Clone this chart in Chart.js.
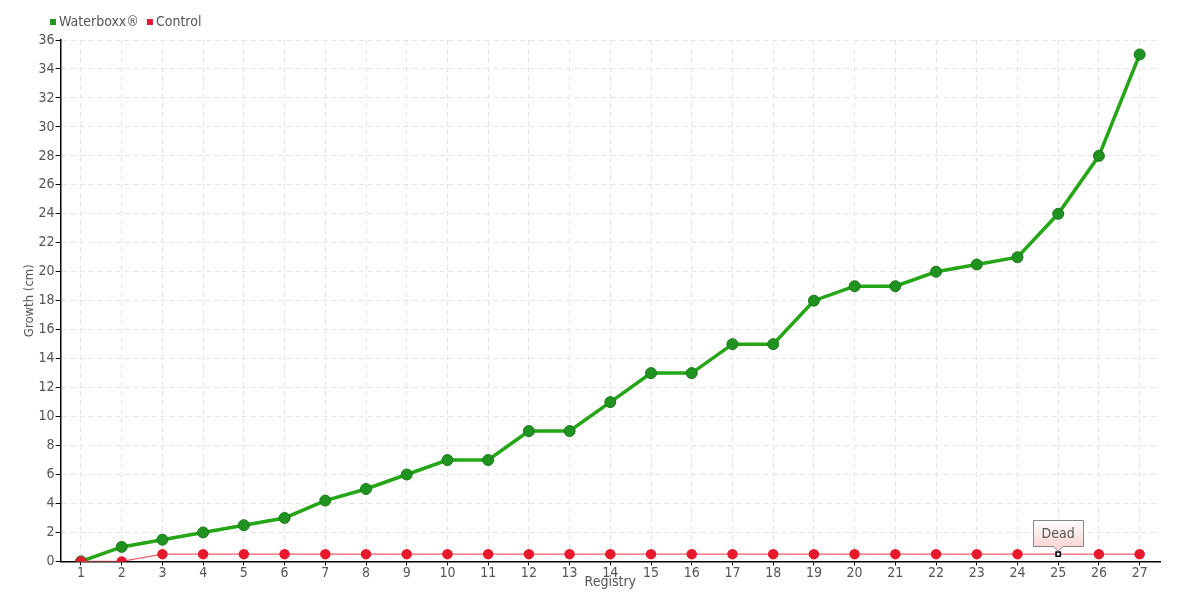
<!DOCTYPE html>
<html><head><meta charset="utf-8">
<script src="https://cdn.jsdelivr.net/npm/chart.js@4"></script>
<style>html,body{margin:0;padding:0;background:#fff}#w{width:1180px;height:600px}</style>
</head><body><div id="w"><canvas id="c"></canvas></div>
<script>
const categories = ["1","2","3","4","5","6","7","8","9","10","11","12","13","14","15","16","17","18","19","20","21","22","23","24","25","26","27"];
const waterboxx = [0,1,1.5,2,2.5,3,4.2,5,6,7,7,9,9,11,13,13,15,15,18,19,19,20,20.5,21,24,28,35];
const control = [0,0,0.5,0.5,0.5,0.5,0.5,0.5,0.5,0.5,0.5,0.5,0.5,0.5,0.5,0.5,0.5,0.5,0.5,0.5,0.5,0.5,0.5,0.5,0.5,0.5,0.5];
const deadIndex = 24;
const deadLabel = "Dead";

const FAMILY = "'DejaVu Sans', sans-serif";
const STRETCH = 'condensed';
Chart.defaults.font.family = FAMILY;
Chart.defaults.font.weight = STRETCH;
Chart.defaults.color = '#555';

const ctrlPointStyle = control.map((v,i)=> i===deadIndex ? 'rect' : 'circle');
const ctrlBg = control.map((v,i)=> i===deadIndex ? '#ffffff' : '#e8192c');
const ctrlBorder = control.map((v,i)=> i===deadIndex ? '#000000' : '#e8192c');
const ctrlRadius = control.map((v,i)=> i===deadIndex ? 3 : 4.5);

const extras = {
  id:'extras',
  afterDraw(chart){
    const ctx = chart.ctx;
    ctx.save();
    // legend
    ctx.font = STRETCH + " 14px " + FAMILY;
    ctx.textBaseline = 'middle'; ctx.textAlign = 'left';
    let lx = 50; const ly = 22;
    chart.data.datasets.forEach(d=>{
      ctx.fillStyle = d.backgroundColor;
      ctx.fillRect(lx, ly-3, 6, 6);
      ctx.fillStyle = '#555';
      ctx.fillText(d.label, lx+9, ly);
      lx += 9 + ctx.measureText(d.label).width + 8;
    });
    // annotation
    const x = chart.scales.x.getPixelForValue(deadIndex);
    const y = chart.scales.y.getPixelForValue(control[deadIndex]);
    const w = 50, h = 26, top = Math.round(y - 34);
    const l = Math.round(x - w/2);
    const g = ctx.createLinearGradient(0, top, 0, top+h);
    g.addColorStop(0,'#ffffff'); g.addColorStop(1,'#fcd6d6');
    ctx.beginPath();
    ctx.moveTo(l+0.5, top+0.5);
    ctx.lineTo(l+w+0.5, top+0.5);
    ctx.lineTo(l+w+0.5, top+h+0.5);
    ctx.lineTo(x+5, top+h+0.5);
    ctx.lineTo(x, top+h+5);
    ctx.lineTo(x-5, top+h+0.5);
    ctx.lineTo(l+0.5, top+h+0.5);
    ctx.closePath();
    ctx.fillStyle = g; ctx.fill();
    ctx.strokeStyle = '#888'; ctx.lineWidth = 1; ctx.stroke();
    ctx.fillStyle = '#555';
    ctx.textAlign = 'center';
    ctx.fillText(deadLabel, x, top + h/2 + 1);
    ctx.restore();
  }
};

new Chart(document.getElementById('c'), {
  type:'line',
  data:{
    labels: categories,
    datasets:[
      {label:'Waterboxx®', data: waterboxx, borderColor:'#24a616', backgroundColor:'#1f9a1f',
       pointBackgroundColor:'#1f921f', pointBorderColor:'#197a19', pointBorderWidth:1,
       borderWidth:3.5, pointRadius:5.5, tension:0, order:2},
      {label:'Control', data: control, borderColor:'#f0606c', backgroundColor:'#e8192c',
       pointBackgroundColor: ctrlBg, pointBorderColor: ctrlBorder, pointStyle: ctrlPointStyle,
       pointRadius: ctrlRadius, pointBorderWidth:1.5, borderWidth:1.2, tension:0, order:1}
    ]
  },
  options:{
    responsive:true, maintainAspectRatio:false, animation:false,
    layout:{padding:{left:22,right:20,top:40,bottom:9}},
    plugins:{
      legend:{display:false},
      tooltip:{enabled:false}
    },
    scales:{
      x:{offset:true, title:{display:true, text:'Registry', font:{size:14}, color:'#555', padding:{top:-8,bottom:0}},
         grid:{color:'#e4e4e4', tickColor:'#000', tickLength:4, drawOnChartArea:true},
         border:{color:'#000', width:1.5, dash:[5,4]},
         ticks:{font:{size:14}, color:'#555', padding:0, maxRotation:0, autoSkip:false}},
      y:{min:0, max:36, title:{display:true, text:'Growth (cm)', font:{size:13}, color:'#555', padding:{top:0,bottom:0}},
         grid:{color:'#e4e4e4', tickColor:'#000', tickLength:5},
         border:{color:'#000', width:1.5, dash:[5,4]},
         ticks:{stepSize:2, font:{size:14}, color:'#555', padding:1}}
    }
  },
  plugins:[extras]
});
</script></body></html>
